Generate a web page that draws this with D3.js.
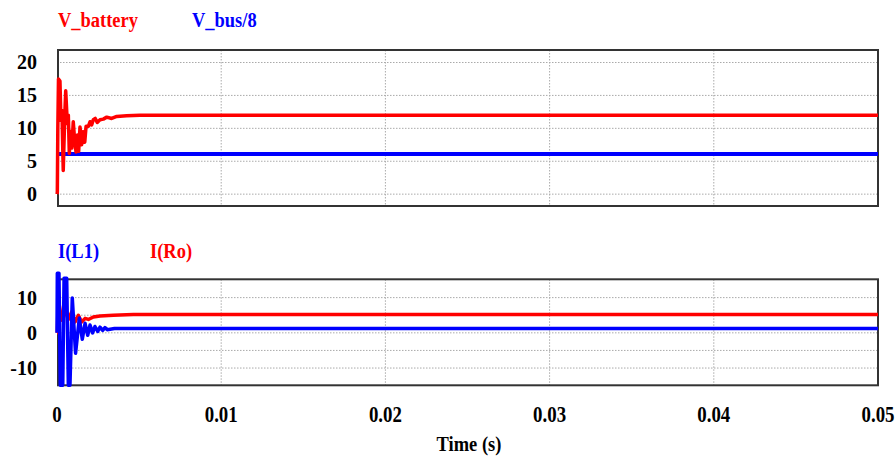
<!doctype html>
<html>
<head>
    <meta charset="utf8">
    <style>
        body { margin: 0; background: #fff; }
        .lbl { font-family: "Liberation Serif", "Times New Roman", serif; font-weight: bold; }
        .grid line { stroke: #aaa; stroke-width: 1; stroke-dasharray: 1.5,1.5; }
        .frame { fill: none; stroke: #333; stroke-width: 2; }
    </style>
    <script src="https://cdnjs.cloudflare.com/ajax/libs/d3/7.8.5/d3.min.js"></script>
</head>
<body>
<svg width="895" height="460"></svg>
<script>

    // time ticks (s)
    var timeTicks = [0, 0.01, 0.02, 0.03, 0.04, 0.05];
    var voltTicks = [0, 5, 10, 15, 20];
    var currGrid = [-10, -5, 0, 5, 10];
    var currTicks = [-10, 0, 10];

    // V_battery
    var tBattery = [0, 0.00002, 0.00005, 0.00009, 0.00018, 0.00024, 0.0003, 0.00038, 0.00047, 0.00053,
                    0.00063, 0.00069, 0.00075, 0.00083, 0.0009, 0.00099, 0.00108, 0.00116, 0.00124, 0.00132,
                    0.0014, 0.0015, 0.0016, 0.00169, 0.00177, 0.00191, 0.00201, 0.00211, 0.00221, 0.00233,
                    0.00245, 0.00262, 0.00282, 0.00303, 0.00333, 0.00364, 0.00424, 0.00505, 0.01, 0.02,
                    0.03, 0.04, 0.05];
    var vBattery = [0, 0.3, 10, 17.5, 17.2, 11.2, 12.7, 3.6, 11.7, 15.7,
                    10.7, 12, 6.2, 9.5, 7, 11, 8, 6.4, 9, 6.5,
                    10.2, 7.5, 9.5, 7.9, 10.3, 10.3, 11, 10.5, 11.3, 11.5,
                    10.9, 11.3, 11.4, 11.7, 11.5, 11.8, 11.9, 12, 12, 12,
                    12, 12, 12];

    // V_bus/8
    var tBus = [0, 0.01, 0.02, 0.03, 0.04, 0.05];
    var vBus = [6.1, 6.1, 6.1, 6.1, 6.1, 6.1];

    // I(L1)
    var tL1 = [0, 0.00002, 0.00012, 0.0002, 0.00035, 0.00043, 0.00059, 0.00069, 0.00079, 0.00093,
               0.00113, 0.00136, 0.00154, 0.00171, 0.00187, 0.00201, 0.00217, 0.00231, 0.00248, 0.00262,
               0.00278, 0.00292, 0.00306, 0.0035, 0.01, 0.02, 0.03, 0.04, 0.05];
    var iL1 = [0, 16.9, 16.9, -14.9, -14.9, 15.5, 15.5, -14.9, -14.9, 9.9,
               -5.8, 4.2, -1.8, 2.7, -0.7, 2.2, 0, 1.8, 0.4, 1.6,
               0.7, 1.5, 0.9, 1.2, 1.2, 1.2, 1.2, 1.2, 1.2];

    // I(Ro)
    var tRo = [0, 0.00002, 0.00006, 0.00014, 0.00029, 0.00049, 0.00069, 0.0009, 0.0011, 0.0013,
               0.0015, 0.00171, 0.00191, 0.00221, 0.00262, 0.00343, 0.00465, 0.01, 0.02, 0.03,
               0.04, 0.05];
    var iRo = [0, 0, 7.6, 7.8, 3.6, 6.4, 3.8, 6, 3.1, 5,
               3.1, 4.1, 3.8, 4.5, 4.8, 5, 5.2, 5.2, 5.2, 5.2,
               5.2, 5.2];

    var svg = d3.select("svg");

    var x = d3.scaleLinear().domain([0, 0.05]).range([57, 878]);
    var yTop = d3.scaleLinear().domain([-1.8, 21.9]).range([206, 50]);
    var yBot = d3.scaleLinear().domain([-14.9, 15.2]).range([385.3, 279.3]);

    function label(px, py, txt, color, size, anchor, sx) {
        svg.append("text")
           .attr("class", "lbl")
           .attr("transform", "translate(" + px + "," + py + ") scale(" + sx + ",1)")
           .attr("text-anchor", anchor)
           .attr("font-size", size + "px")
           .attr("fill", color)
           .text(txt);
    }

    function panel(y, grid, ticks) {
        var r = y.range();
        var g = svg.append("g").attr("class", "grid");
        g.selectAll(".h").data(grid).enter().append("line")
         .attr("x1", x(0)).attr("x2", x(0.05))
         .attr("y1", function(d) { return y(d); })
         .attr("y2", function(d) { return y(d); });
        g.selectAll(".v").data(timeTicks.slice(1, 5)).enter().append("line")
         .attr("x1", function(d) { return x(d); })
         .attr("x2", function(d) { return x(d); })
         .attr("y1", r[1]).attr("y2", r[0]);

        var ax = svg.append("g")
           .attr("transform", "translate(" + 58 + ",0)")
           .call(d3.axisLeft(y).tickValues(ticks).tickSize(0).tickPadding(21)
                   .tickFormat(function(d) { return String(d); }));
        ax.select(".domain").remove();
        ax.selectAll("text")
          .attr("class", "lbl")
          .attr("font-size", "20px")
          .attr("fill", "#000");

        svg.append("rect")
           .attr("class", "frame")
           .attr("x", 58).attr("y", r[1])
           .attr("width", x(0.05) - 58)
           .attr("height", r[0] - r[1]);
    }

    function series(y, ts, vs, color, w) {
        var line = d3.line()
            .x(function(d, i) { return x(ts[i]); })
            .y(function(d) { return y(d); });
        svg.append("path")
           .datum(vs)
           .attr("fill", "none")
           .attr("stroke", color)
           .attr("stroke-width", w)
           .attr("stroke-linejoin", "round")
           .attr("d", line);
    }

    panel(yTop, voltTicks, voltTicks);
    panel(yBot, currGrid, currTicks);

    series(yTop, tBus, vBus, "#0000ff", 4);
    series(yTop, tBattery, vBattery, "#ff0000", 3.5);
    series(yBot, tRo, iRo, "#ff0000", 3.5);
    series(yBot, tL1, iL1, "#0000ff", 3.5);

    // legends
    label(58, 27, "V_battery", "#ff0000", 22, "start", 0.84);
    label(192, 27, "V_bus/8", "#0000ff", 22, "start", 0.84);
    label(58, 258, "I(L1)", "#0000ff", 22, "start", 0.84);
    label(150, 258, "I(Ro)", "#ff0000", 22, "start", 0.84);

    // time axis
    timeTicks.forEach(function(t) {
        label(x(t), 422, t === 0 ? "0" : d3.format(".2f")(t), "#000", 23, "middle", 0.82);
    });
    label(469, 451, "Time (s)", "#000", 22, "middle", 0.84);

</script>
</body>
</html>
